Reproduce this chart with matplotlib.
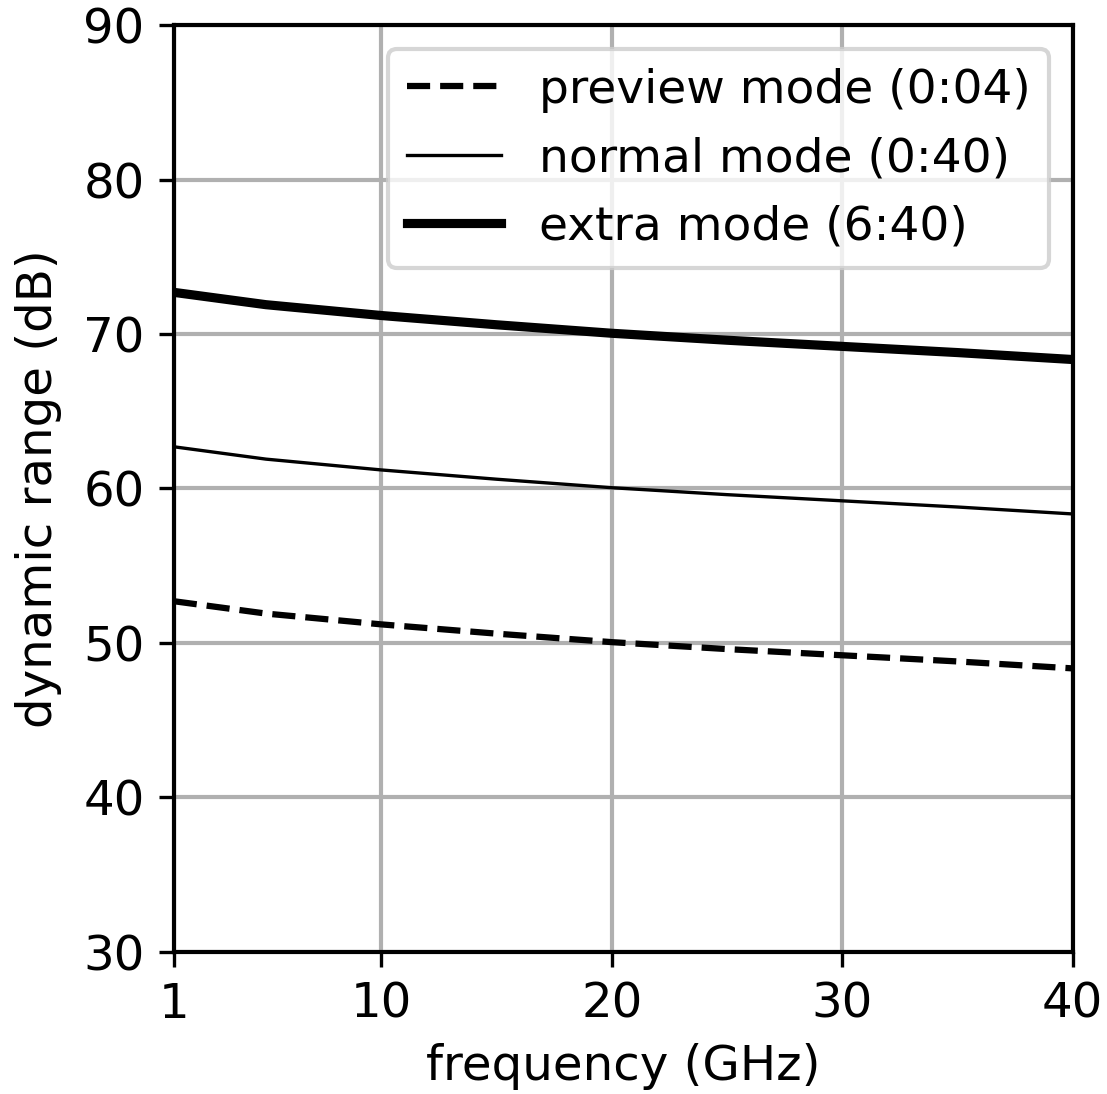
import matplotlib
matplotlib.use('Agg')
import matplotlib.pyplot as plt

# frequency points (GHz) and dynamic range (dB)
freq = [1, 5, 10, 15, 20, 25, 30, 35, 40]
preview = [52.7, 51.9, 51.2, 50.6, 50.05, 49.6, 49.2, 48.8, 48.35]
normal = [62.7, 61.9, 61.2, 60.6, 60.05, 59.6, 59.2, 58.8, 58.35]
extra = [72.7, 71.9, 71.2, 70.6, 70.05, 69.6, 69.2, 68.8, 68.35]

xticks = [1, 10, 20, 30, 40]
yticks = [30, 40, 50, 60, 70, 80, 90]

plt.rcParams['font.size'] = 11.6

fig = plt.figure(figsize=(1107 / 300, 1094 / 300), dpi=300)
ax = fig.add_axes([0.157, 0.130, 0.812, 0.847])

ax.plot(freq, preview, 'k--', lw=1.5, label='preview mode (0:04)')
ax.plot(freq, normal, 'k-', lw=0.8, label='normal mode (0:40)')
ax.plot(freq, extra, 'k-', lw=2.2, label='extra mode (6:40)')

ax.set_xlim(1, 40)
ax.set_ylim(30, 90)
ax.set_xticks(xticks)
ax.set_yticks(yticks)
ax.grid(True, color='#b0b0b0', lw=1.0)
for s in ax.spines.values():
    s.set_linewidth(1.0)
ax.set_xlabel('frequency (GHz)', labelpad=3.5)
ax.set_ylabel('dynamic range (dB)', labelpad=5)
ax.legend(loc='upper right', fontsize=11.3)

fig.savefig('out.png', dpi=300)
